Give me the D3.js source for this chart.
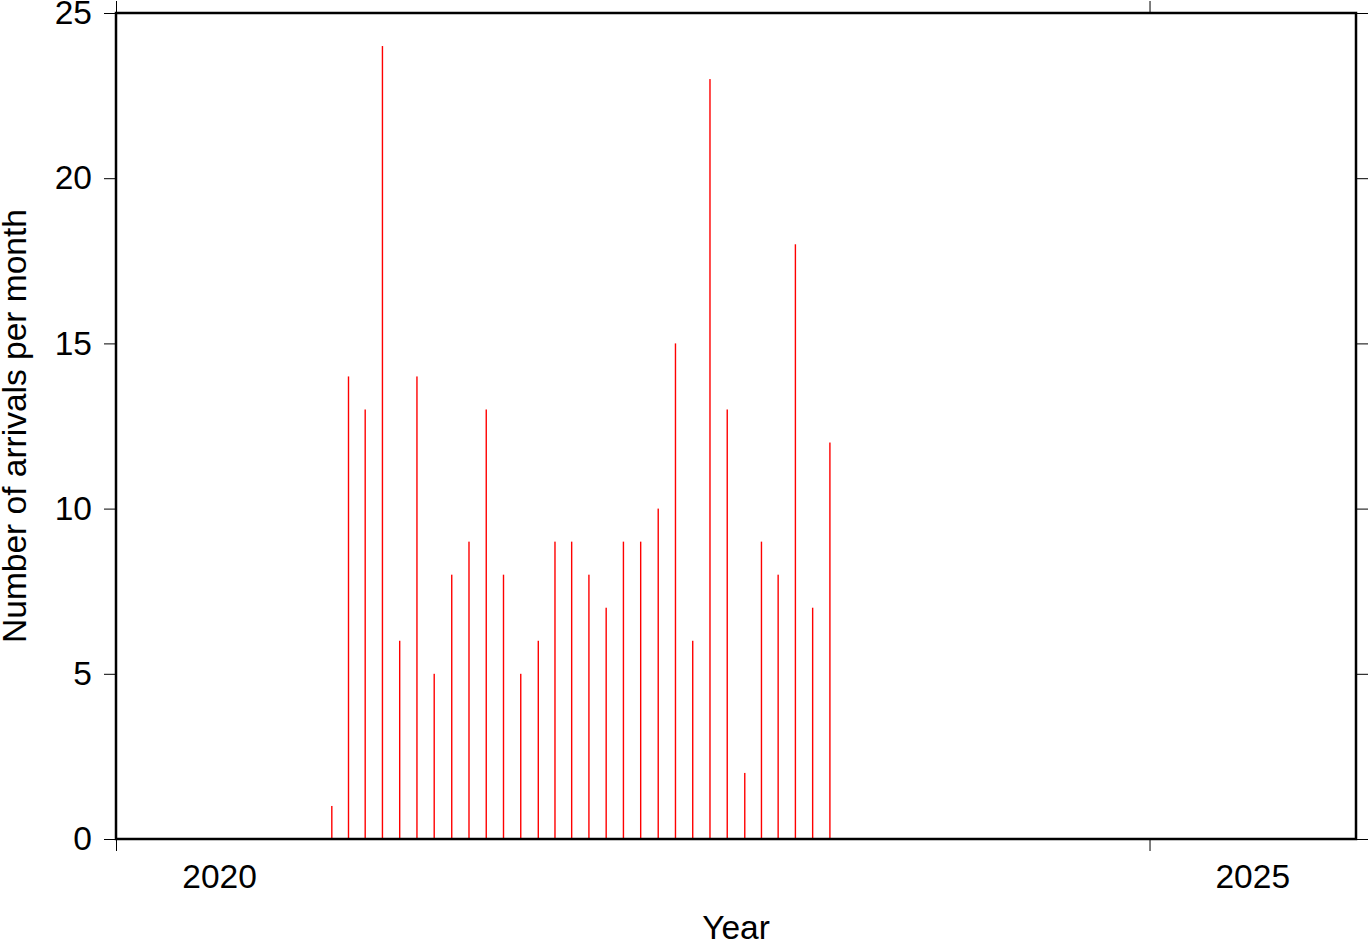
<!DOCTYPE html>
<html>
<head>
<meta charset="utf-8">
<script src="https://cdn.jsdelivr.net/npm/d3@7"></script>
<style>
  html, body { margin: 0; padding: 0; background: #fff; }
  svg { display: block; }
  text { font-family: "Liberation Sans", Arial, Helvetica, sans-serif; fill: #000; }
</style>
</head>
<body>
<svg id="chart" width="1369" height="942"></svg>
<script>
// ---- data ----
const months = [
  "2021-01","2021-02","2021-03","2021-04","2021-05","2021-06",
  "2021-07","2021-08","2021-09","2021-10","2021-11","2021-12",
  "2022-01","2022-02","2022-03","2022-04","2022-05","2022-06",
  "2022-07","2022-08","2022-09","2022-10","2022-11","2022-12",
  "2023-01","2023-02","2023-03","2023-04","2023-05","2023-06"
];
const arrivals = [
  1, 14, 13, 24, 6, 14,
  5, 8, 9, 13, 8, 5,
  6, 9, 9, 8, 7, 9,
  9, 10, 15, 6, 23, 13,
  2, 9, 8, 18, 7, 12
];
const yTicks = [0, 5, 10, 15, 20, 25];
const xTickYears = [2020, 2025];
const xLabel = "Year";
const yLabel = "Number of arrivals per month";

// ---- layout ----
const svg = d3.select("#chart");
const pL = 116, pR = 1356, pT = 13, pB = 839;
const tickLen = 12;

const x = d3.scaleUtc()
  .domain([new Date(Date.UTC(2020, 0, 1)), new Date(Date.UTC(2026, 0, 1))])
  .range([pL, pR]);
const y = d3.scaleLinear().domain([0, 25]).range([pB, pT]);

const parse = d3.utcParse("%Y-%m");
const data = months.map((m, i) => {
  const start = parse(m);
  const end = d3.utcMonth.offset(start, 1);
  return { mid: new Date((start.getTime() + end.getTime()) / 2), v: arrivals[i] };
});

// bars
const barW = 1.4;
svg.append("g").selectAll("rect").data(data).enter().append("rect")
  .attr("x", d => x(d.mid) - barW / 2)
  .attr("y", d => y(d.v))
  .attr("width", barW)
  .attr("height", d => y(0) - y(d.v))
  .attr("fill", "#ff0000");

// axes
const yearDates = xTickYears.map(yr => new Date(Date.UTC(yr, 0, 1)));
const fontSize = 33.5;

const axL = d3.axisLeft(y).tickValues(yTicks).tickSize(tickLen).tickPadding(12);
const gL = svg.append("g").attr("transform", `translate(${pL},0)`).call(axL);
const axR = d3.axisRight(y).tickValues(yTicks).tickSize(tickLen).tickFormat("");
const gR = svg.append("g").attr("transform", `translate(${pR},0)`).call(axR);
const axB = d3.axisBottom(x).tickValues(yearDates).tickSize(tickLen).tickFormat("");
const gB = svg.append("g").attr("transform", `translate(0,${pB})`).call(axB);
const axT = d3.axisTop(x).tickValues(yearDates).tickSize(tickLen).tickFormat("");
const gT = svg.append("g").attr("transform", `translate(0,${pT})`).call(axT);

[gL, gR, gB, gT].forEach(g => {
  g.select(".domain").remove();
  g.selectAll(".tick line").attr("stroke", "#000").attr("stroke-width", 1);
});
gL.selectAll(".tick text")
  .attr("font-size", fontSize)
  .style("font-family", "'Liberation Sans', Arial, sans-serif")
  .attr("fill", "#000");

// year labels centered in the year interval
svg.append("g").selectAll("text").data(xTickYears).enter().append("text")
  .attr("x", yr => (x(new Date(Date.UTC(yr, 0, 1))) + x(new Date(Date.UTC(yr + 1, 0, 1)))) / 2)
  .attr("y", 888)
  .attr("text-anchor", "middle")
  .attr("font-size", fontSize)
  .text(yr => yr);

// frame
svg.append("rect")
  .attr("x", pL).attr("y", pT)
  .attr("width", pR - pL).attr("height", pB - pT)
  .attr("fill", "none").attr("stroke", "#000").attr("stroke-width", 2.5);

// axis titles
svg.append("text")
  .attr("x", (pL + pR) / 2)
  .attr("y", 939)
  .attr("text-anchor", "middle")
  .attr("font-size", fontSize)
  .text(xLabel);

svg.append("text")
  .attr("transform", `translate(26,${(pT + pB) / 2}) rotate(-90)`)
  .attr("text-anchor", "middle")
  .attr("font-size", fontSize)
  .text(yLabel);
</script>
</body>
</html>
